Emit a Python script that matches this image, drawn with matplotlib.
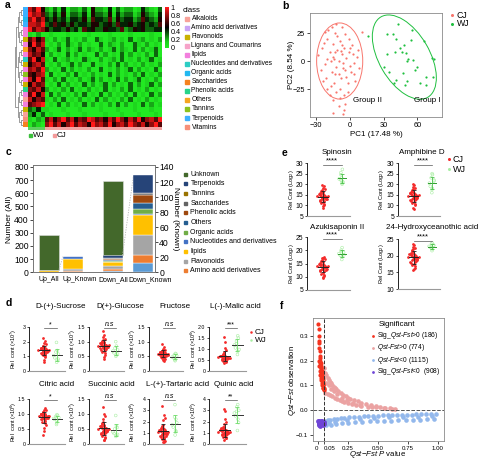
import numpy as np
import matplotlib
matplotlib.use("Agg")
import matplotlib.pyplot as plt
from matplotlib.colors import LinearSegmentedColormap, ListedColormap
from matplotlib.patches import Ellipse, Rectangle

plt.rcParams["font.family"] = ["Liberation Sans", "DejaVu Sans"]
plt.rcParams["mathtext.fontset"] = "custom"
plt.rcParams["mathtext.rm"] = "Liberation Sans"
plt.rcParams["mathtext.it"] = "Liberation Sans:italic"
plt.rcParams["mathtext.bf"] = "Liberation Sans:bold"
plt.rcParams["axes.linewidth"] = 0.6

W, H = 479, 463

# ---------------- a: heatmap (digits 0-9, first 4 columns WJ) ----------------
HEAT_WJ = ["8695", "9786", "7968", "8879", "9687", "1020",
           "6857", "5968", "7586", "8675", "6958", "5786", "7869", "6578",
           "8596", "5867", "7685", "6958", "8576", "6789", "3241", "2413",
           "1021", "0210"]
HEAT_CJ = ["2131402213052214031220142103",
           "3242513324153325142331253214",
           "4353424435264436253442364325",
           "3464535344355345364453453436",
           "5344353426453354436235453344",
           "0100010000100001000010000100",
           "1020130102003101201030120102",
           "0102031020100302102003102010",
           "2013020130210201302103020130",
           "0201030201003020103020102030",
           "1030120103100201203010201301",
           "0102013020030102030201020102",
           "2010302010200301020130201030",
           "0301020301020103020102030102",
           "1020301020130201030201301020",
           "0103020103020130201030201302",
           "2010203010201030102030102010",
           "0302010203010302010203010302",
           "1020301020103020102030102010",
           "0103020103020102030201030201",
           "1000100010000100010001000100",
           "0100010001000010001000100010",
           "6857968576986758697586957869",
           "7968579687597869578697685796"]
ROW_CLASS = [11, 11, 6, 11, 4, 4, 2, 4, 9, 4, 5, 2, 4, 10, 4, 2, 8, 4, 0, 4, 2, 0, 12, 7]
CLASS_NAMES = ["Alkaloids", "Amino acid derivatives", "Flavonoids", "Lignans and Coumarins",
               "lipids", "Nucleotides and derivatives", "Organic acids", "Saccharides",
               "Phenolic acids", "Others", "Tannins", "Terpenoids", "Vitamins"]
CLASS_COLORS = ["#f8a29a", "#c9a3f5", "#c9b200", "#f6a3c8", "#f27fdd", "#2dcdc4", "#22b8f0",
                "#f5821f", "#27d38a", "#f6a51f", "#8cc21c", "#3db1ff", "#f7907a"]
CB_TICKS = [0, 0.2, 0.4, 0.6, 0.8, 1]
CB_LABELS = ["0", "0.2", "0.4", "0.6", "0.8", "1"]

# ---------------- b: PCA ----------------
CJ_PC1 = [-28, -25, -22, -20, -18, -16, -15, -14, -13, -12, -11, -10, -9, -8, -7, -6, -5, -4, -3, -2,
          -1, 0, 2, 4, 6, 8, -26, -23, -21, -19, -17, -15, -13, -11, -9, -7, -5, -3, -1, 1,
          3, 5, 7, -24, -20, -16, -12, -8, -4, 0, 4, -18, -14, -10, -6, -2, -22, -12, -7, -15,
          -10, -5, 11, -15, -6, -4, -9, -20, -13, -17]
CJ_PC2 = [5, 12, -3, 20, 8, -10, 15, 2, 25, -5, 10, 0, 18, -15, 6, -2, 12, -8, 3, -20,
          8, -4, 14, -12, 4, -6, -8, 16, -15, 28, -22, 4, -12, 22, -25, 14, -30, -14, 20, -10,
          6, -18, 10, -18, 2, 30, -28, 9, 24, 12, -2, -30, -20, -12, -6, -28, 26, 33, 30, -35,
          -40, -44, 26, -46, -47, -38, -33, -25, 8, 0]
WJ_PC1 = [43, 33, 38, 55, 54, 41, 48, 66, 40, 33, 46, 50, 52, 51, 56, 73, 75, 30, 58, 47,
          41, 68, 74, 51, 49, 62, 68, 39, 16, 45, 60, 35]
WJ_PC2 = [33, 24, 24, 28, 19, 20, 14, 18, 8, 6, 8, 7, 2, 0, 1, 3, 2, -5, -8, -11,
          -17, -14, -14, -18, -21, -20, -21, -20, 22, 12, -5, -10]

# ---------------- c: stacked bars ----------------
GROUP_LABELS = ["Up_All", "Up_Known", "Down_All", "Down_Known"]
KNOWN_CLASSES = ["Alkaloids", "Amino acid derivatives", "Flavonoids", "lipids",
                 "Nucleotides and derivatives", "Organic acids", "Others", "Phenolic acids",
                 "Saccharides", "Tannins", "Terpenoids"]
UP_KNOWN = [1, 1, 2, 14, 3, 0, 0, 0, 0, 0, 0]
DOWN_KNOWN = [12, 11, 26, 27, 2, 6, 8, 11, 2, 1, 23]
UP_UNKNOWN = 259
DOWN_UNKNOWN = 563
C_LEGEND = ["Unknown", "Terpenoids", "Tannins", "Saccharides", "Phenolic acids", "Others",
            "Organic acids", "Nucleotides and derivatives", "lipids", "Flavonoids",
            "Amino acid derivatives"]
C_COLORS = {"Unknown": "#43682b", "Terpenoids": "#264478", "Tannins": "#997300",
            "Saccharides": "#636363", "Phenolic acids": "#9e480e", "Others": "#255e91",
            "Organic acids": "#70ad47", "Nucleotides and derivatives": "#4472c4",
            "lipids": "#ffc000", "Flavonoids": "#a5a5a5", "Amino acid derivatives": "#ed7d31",
            "Alkaloids": "#5b9bd5"}

# ---------------- d: organic acids / sugars ----------------
SUCROSE_CJ = [1.42, 1.35, 1.50, 1.28, 1.61, 1.19, 1.45, 1.72, 1.33, 1.55, 1.08, 1.40, 1.88, 1.25, 1.47, 1.63, 0.95, 1.38,
              1.52, 2.05, 1.30, 1.44, 1.15, 1.68, 1.36, 0.78, 1.58, 1.22, 1.49, 1.83, 1.41, 2.28, 1.02, 1.34, 1.57, 0.62]
SUCROSE_WJ = [1.05, 0.75, 1.30, 1.15, 0.60, 0.90, 1.40, 1.95, 0.80]
GLUCOSE_CJ = [0.86, 0.80, 0.92, 0.75, 0.98, 0.70, 0.88, 1.05, 0.82, 0.95, 0.64, 0.84, 1.15, 0.77, 0.90, 1.00, 0.55, 0.83,
              0.93, 1.22, 0.79, 0.87, 0.68, 1.02, 0.81, 0.48, 0.96, 0.73, 0.89, 1.10, 0.85, 1.35, 0.60, 0.82, 0.94, 0.42]
GLUCOSE_WJ = [0.68, 0.55, 0.78, 0.72, 0.50, 0.62, 0.85, 1.00, 0.58]
FRUCTOSE_CJ = [0.58, 0.55, 0.62, 0.52, 0.66, 0.49, 0.60, 0.70, 0.56, 0.64, 0.45, 0.57, 0.76, 0.53, 0.61, 0.68, 0.40, 0.57,
               0.63, 0.82, 0.54, 0.59, 0.47, 0.69, 0.56, 0.37, 0.65, 0.51, 0.60, 0.73, 0.58, 0.92, 0.43, 0.56, 0.64, 0.35]
FRUCTOSE_WJ = [0.48, 0.40, 0.55, 0.52, 0.35, 0.45, 0.60, 0.38, 0.58]
MALIC_CJ = [0.62, 0.58, 0.66, 0.55, 0.71, 0.51, 0.63, 0.78, 0.57, 0.69, 0.46, 0.60, 0.88, 0.54, 0.65, 0.74, 0.41, 0.59,
            0.67, 1.05, 0.56, 0.61, 0.49, 0.76, 0.58, 0.38, 0.70, 0.53, 0.64, 0.95, 0.60, 1.55, 0.44, 0.57, 0.68, 1.30]
MALIC_WJ = [1.18, 0.90, 1.35, 1.50, 0.75, 1.05, 1.60, 1.25, 0.98]
CITRIC_CJ = [0.94, 0.90, 0.98, 0.86, 1.02, 0.82, 0.95, 1.08, 0.88, 1.00, 0.75, 0.92, 1.15, 0.85, 0.97, 1.05, 0.65, 0.91,
             0.99, 1.20, 0.87, 0.93, 0.78, 1.06, 0.89, 0.52, 1.01, 0.83, 0.96, 1.12, 0.92, 0.30, 0.70, 0.90, 1.00, 0.45]
CITRIC_WJ = [0.85, 0.78, 0.92, 0.95, 0.70, 0.82, 0.98, 0.65, 0.88]
SUCCINIC_CJ = [0.50, 0.45, 0.56, 0.40, 0.62, 0.35, 0.52, 0.72, 0.43, 0.60, 0.28, 0.48, 0.85, 0.38, 0.55, 0.66, 0.20, 0.46,
               0.58, 1.00, 0.41, 0.51, 0.32, 0.70, 0.44, 0.15, 0.61, 0.37, 0.53, 0.92, 0.49, 1.25, 0.25, 0.45, 0.59, 0.12]
SUCCINIC_WJ = [0.40, 0.30, 0.50, 0.55, 0.25, 0.35, 0.60, 0.95, 0.32]
TARTARIC_CJ = [1.05, 0.90, 1.20, 0.75, 1.40, 0.60, 1.10, 1.70, 0.85, 1.30, 0.45, 1.00, 2.10, 0.70, 1.25, 1.55, 0.30, 0.95,
               1.35, 2.60, 0.80, 1.08, 0.50, 1.60, 0.88, 0.20, 1.45, 0.65, 1.15, 2.30, 1.02, 3.40, 0.38, 0.92, 1.28, 0.15]
TARTARIC_WJ = [1.70, 1.20, 2.40, 1.90, 0.80, 1.50, 2.20, 3.50, 1.10]
QUINIC_CJ = [1.10, 1.00, 1.20, 0.90, 1.35, 0.80, 1.12, 1.55, 0.95, 1.28, 0.65, 1.05, 1.80, 0.85, 1.22, 1.45, 0.50, 1.02,
             1.30, 2.20, 0.88, 1.08, 0.70, 1.50, 0.98, 0.35, 1.40, 0.82, 1.15, 2.00, 1.06, 3.10, 0.55, 0.96, 1.25, 2.90]
QUINIC_WJ = [2.75, 2.20, 3.30, 3.00, 1.20, 2.50, 3.50, 2.90, 1.90]
D_TITLES = ["D-(+)-Sucrose", "D(+)-Glucose", "Fructose", "L(-)-Malic acid",
            "Citric acid", "Succinic acid", "L-(+)-Tartaric acid", "Quinic acid"]
D_EXP = [7, 7, 7, 6, 6, 7, 6, 5]
D_SIG = ["*", "n.s", "n.s", "***", "*", "n.s", "n.s", "**"]
D_YMAX = [3, 1.5, 1.5, 2.0, 1.5, 1.5, 4, 4]
D_YTICKS = [[0, 1, 2, 3], [0, 0.5, 1.0, 1.5], [0, 0.5, 1.0, 1.5], [0, 0.5, 1.0, 1.5, 2.0],
            [0, 0.5, 1.0, 1.5], [0, 0.5, 1.0, 1.5], [0, 1, 2, 3, 4], [0, 1, 2, 3, 4]]

# ---------------- e: flavonoid / saponin markers ----------------
SPINOSIN_CJ = [14.2, 13.5, 15.0, 12.8, 16.1, 12.0, 14.5, 17.2, 13.2, 15.6, 11.0, 14.0, 18.3, 12.5, 14.8, 16.5, 10.2, 13.8,
               15.3, 19.2, 12.9, 14.3, 11.5, 16.8, 13.6, 9.5, 15.8, 12.2, 14.6, 17.8, 14.1, 19.6, 10.8, 13.4, 15.5, 9.0]
SPINOSIN_WJ = [22.5, 20.5, 24.5, 21.0, 23.0, 25.5, 20.0, 22.0, 27.0, 21.5]
AMPHIBINE_CJ = [14.6, 13.8, 15.4, 13.0, 16.5, 12.2, 14.9, 17.6, 13.4, 16.0, 11.2, 14.4, 18.8, 12.7, 15.2, 17.0, 10.0, 14.1,
                15.8, 19.8, 13.1, 14.7, 11.6, 17.3, 13.9, 8.6, 16.2, 12.4, 15.0, 18.2, 14.5, 20.2, 10.6, 13.6, 15.9, 8.2]
AMPHIBINE_WJ = [20.5, 18.0, 23.0, 21.5, 17.5, 19.0, 24.5, 16.0, 22.0, 25.0]
AZUKI_CJ = [13.9, 13.3, 14.6, 12.7, 15.4, 12.0, 14.1, 16.3, 13.0, 15.0, 11.2, 13.7, 17.0, 12.4, 14.4, 15.8, 10.4, 13.5,
            14.8, 17.5, 12.8, 14.0, 11.6, 16.0, 13.2, 9.8, 15.2, 12.2, 14.3, 16.7, 13.8, 17.2, 10.8, 13.1, 14.9, 9.5]
AZUKI_WJ = [18.7, 17.5, 20.0, 19.2, 16.5, 18.0, 21.0, 19.5, 18.3]
HYDROXY_CJ = [19.6, 19.0, 20.3, 18.4, 21.0, 17.8, 19.9, 21.9, 18.8, 20.6, 17.1, 19.4, 22.6, 18.2, 20.1, 21.4, 16.3, 19.2,
              20.5, 23.3, 18.6, 19.7, 17.4, 21.6, 19.0, 15.6, 20.8, 18.0, 20.0, 22.3, 19.5, 23.6, 16.8, 18.9, 20.4, 15.9]
HYDROXY_WJ = [22.8, 22.0, 23.5, 23.0, 21.5, 22.5, 23.8, 22.3, 23.2]
E_TITLES = ["Spinosin", "Amphibine D", "Azukisaponin II", "24-Hydroxyceanothic acid"]
E_YLIM = [(5, 30), (5, 30), (5, 25), (10, 25)]

# ---------------- f: Qst-Fst ----------------
SIGPOS_X = [0.003, 0.006, 0.01, 0.012, 0.015, 0.018, 0.02, 0.022, 0.025, 0.028, 0.03, 0.032, 0.035, 0.038,
            0.04, 0.042, 0.045, 0.048, 0.005, 0.008, 0.013, 0.017, 0.021, 0.024, 0.027, 0.031, 0.034, 0.037,
            0.041, 0.044, 0.047, 0.011, 0.019, 0.026, 0.033, 0.039, 0.046, 0.009, 0.016, 0.023]
SIGPOS_Y = [0.35, 0.33, 0.30, 0.27, 0.24, 0.22, 0.20, 0.19, 0.18, 0.17, 0.16, 0.15, 0.14, 0.13,
            0.12, 0.11, 0.10, 0.09, 0.28, 0.25, 0.21, 0.19, 0.17, 0.16, 0.15, 0.13, 0.12, 0.11,
            0.10, 0.09, 0.085, 0.18, 0.14, 0.12, 0.10, 0.09, 0.08, 0.20, 0.16, 0.13]
POS_X = [0.05, 0.06, 0.07, 0.08, 0.09, 0.10, 0.11, 0.12, 0.13, 0.14, 0.15, 0.17, 0.19, 0.21, 0.23, 0.25,
         0.27, 0.30, 0.33, 0.36, 0.40, 0.44, 0.48, 0.52, 0.56, 0.60, 0.64,
         0.06, 0.08, 0.10, 0.12, 0.14, 0.16, 0.18, 0.20, 0.22, 0.25, 0.28, 0.32, 0.36, 0.42, 0.48, 0.55, 0.62,
         0.07, 0.09, 0.11, 0.13, 0.16, 0.20, 0.24, 0.29, 0.35, 0.45]
POS_Y = [0.17, 0.15, 0.14, 0.13, 0.12, 0.115, 0.11, 0.10, 0.095, 0.09, 0.085, 0.075, 0.068, 0.06, 0.055, 0.05,
         0.045, 0.04, 0.035, 0.03, 0.025, 0.02, 0.016, 0.012, 0.009, 0.006, 0.004,
         0.07, 0.065, 0.06, 0.055, 0.05, 0.045, 0.042, 0.038, 0.034, 0.03, 0.026, 0.022, 0.018, 0.013, 0.01, 0.006, 0.003,
         0.11, 0.10, 0.085, 0.078, 0.065, 0.05, 0.04, 0.03, 0.022, 0.012]
NEG_X = [0.06, 0.08, 0.10, 0.13, 0.16, 0.19, 0.22, 0.26, 0.30, 0.34, 0.38, 0.42, 0.46, 0.50, 0.54, 0.58, 0.62,
         0.66, 0.70, 0.74, 0.78, 0.82, 0.86, 0.90, 0.94, 0.98,
         0.07, 0.11, 0.15, 0.20, 0.25, 0.31, 0.37, 0.43, 0.49, 0.55, 0.61, 0.67, 0.73, 0.79, 0.85, 0.91, 0.97,
         0.09, 0.14, 0.24, 0.35, 0.47, 0.59, 0.71, 0.83, 0.95]
NEG_Y = [-0.045, -0.042, -0.04, -0.038, -0.036, -0.034, -0.032, -0.03, -0.028, -0.027, -0.026, -0.025, -0.024,
         -0.023, -0.022, -0.022, -0.021, -0.02, -0.02, -0.019, -0.019, -0.018, -0.018, -0.017, -0.017, -0.016,
         -0.062, -0.06, -0.058, -0.055, -0.052, -0.05, -0.048, -0.046, -0.045, -0.044, -0.043, -0.042, -0.041,
         -0.04, -0.039, -0.038, -0.037,
         -0.052, -0.047, -0.04, -0.036, -0.032, -0.03, -0.028, -0.027, -0.026]
SIGNEG_X = [0.002, 0.006, 0.01, 0.014, 0.018, 0.022, 0.026, 0.03, 0.034, 0.038, 0.042, 0.046,
            0.004, 0.008, 0.012, 0.016, 0.02, 0.024, 0.028, 0.032, 0.036, 0.04, 0.044, 0.048]
SIGNEG_Y = [-0.045, -0.05, -0.055, -0.06, -0.048, -0.052, -0.058, -0.044, -0.05, -0.056, -0.062, -0.047,
            -0.062, -0.058, -0.046, -0.053, -0.064, -0.049, -0.043, -0.059, -0.054, -0.047, -0.051, -0.057]
F_LABELS = ["Sig_$Qst$-$Fst$>0 (186)", "$Qst$-$Fst$>0 (774)", "$Qst$-$Fst$<0 (1115)", "Sig_$Qst$-$Fst$<0  (908)"]

RED = "#f42a2a"
LGREEN = "#a8eea2"
PCA_RED = "#f8766d"
PCA_GREEN = "#1fbf3f"
F_COLORS = ["#f5331f", "#eba2a2", "#93b8ec", "#6f45d6"]


def px_axes(fig, l, t, r, b, **kw):
    return fig.add_axes([l / W, 1 - b / H, (r - l) / W, (b - t) / H], **kw)


def swarm_x(vals, center, half):
    v = np.asarray(vals, float)
    rank = np.empty(len(v))
    rank[np.argsort(v)] = np.arange(len(v))
    dens = 1 - 0.8 * np.abs(rank / (len(v) - 1) - 0.5) * 2
    phase = ((np.arange(len(v)) * 0.618034) % 1) * 2 - 1
    return center + phase * half * dens


def strip(ax, cj, wj, cj_half, wj_half, bar_cj, bar_wj, wj_mean, wj_err, ms):
    ax.scatter(swarm_x(cj, 1, cj_half), cj, s=ms, color=RED, lw=0, zorder=2)
    ax.scatter(swarm_x(wj, 2, wj_half), wj, s=ms, facecolor="none", edgecolor=LGREEN, lw=0.4, zorder=2)
    for pos, vals, half, mc, ec in [(1, cj, bar_cj, "#222222", "#222222"),
                                   (2, wj, bar_wj, wj_mean, wj_err)]:
        m, sd = np.mean(vals), np.std(vals)
        ax.plot([pos - half, pos + half], [m, m], color=mc, lw=0.7, zorder=3)
        ax.errorbar(pos, m, yerr=sd, color=ec, lw=0.6, capsize=1.5, capthick=0.6, zorder=3)


def sig(ax, text, fs, italic=False):
    y0, y1 = ax.get_ylim()
    yb = y1 - 0.03 * (y1 - y0)
    ax.plot([1, 2], [yb, yb], color="#555555", lw=0.5, clip_on=False)
    ax.text(1.5, yb, text, ha="center", va="bottom", fontsize=fs, clip_on=False,
            style="italic" if italic else "normal")


def strip_style(ax, ylim, yticks, fs):
    ax.set_ylim(*ylim)
    ax.set_yticks(yticks, [f"{t:g}" if float(t).is_integer() and max(yticks) > 2 else
                           ("0" if t == 0 else f"{t:.1f}") for t in yticks])
    ax.set_xticks([])
    ax.spines[["top", "right"]].set_visible(False)
    ax.spines["bottom"].set_color("#9a9a9a")
    ax.spines["bottom"].set_linewidth(0.8)
    ax.spines["left"].set_linewidth(0.6)
    ax.tick_params(axis="y", length=1.8, width=0.5, pad=0.8, labelsize=fs)
    ax.patch.set_alpha(0)


fig = plt.figure(figsize=(W / 100, H / 100), dpi=100)
ov = fig.add_axes([0, 0, 1, 1], zorder=20)
ov.set_xlim(0, W)
ov.set_ylim(H, 0)
ov.axis("off")


def label(x, y, s, fs, rot=0, **kw):
    ov.text(x, y, s, fontsize=fs, rotation=rot, ha=kw.pop("ha", "center"), va="center", **kw)


for lab, x, y in [("a", 5, 5), ("b", 282, 6), ("c", 6, 152), ("d", 6, 303), ("e", 282, 153), ("f", 280, 306)]:
    label(x, y, lab, 7.5, fontweight="bold", ha="left")

# ---------------- a ----------------
heat = np.array([[int(ch) for ch in wj + cj] for wj, cj in zip(HEAT_WJ, HEAT_CJ)]) / 9
gkr = LinearSegmentedColormap.from_list(
    "gkr", [(0, "#22e822"), (0.15, "#1dd01d"), (0.5, "#000000"), (1, "#ff1a1a")])
axh = px_axes(fig, 28, 7, 162, 127)
axh.imshow(heat, cmap=gkr, vmin=0, vmax=1, aspect="auto", interpolation="nearest")
axh.axis("off")

axrow = px_axes(fig, 23, 7, 27.5, 127)
axrow.imshow(np.array(ROW_CLASS)[:, None], cmap=ListedColormap(CLASS_COLORS), vmin=-0.5,
             vmax=len(CLASS_COLORS) - 0.5, aspect="auto", interpolation="nearest")
axrow.axis("off")

axcol = px_axes(fig, 28, 127.5, 162, 130.5)
n_wj, n_cj = len(HEAT_WJ[0]), len(HEAT_CJ[0])
axcol.imshow(np.array([[0] * n_wj + [1] * n_cj]), cmap=ListedColormap(["#5ed05e", "#f4a3a3"]),
             aspect="auto", interpolation="nearest")
axcol.axis("off")

# simple dendrogram on the rows
axd = px_axes(fig, 14, 7, 22.5, 127)
n = len(ROW_CLASS)
axd.set_xlim(0, 1)
axd.set_ylim(n, 0)
axd.axis("off")
nodes = [(i + 0.5, 1.0) for i in range(n)]
level = 0.8
while len(nodes) > 1:
    nxt = []
    for k in range(0, len(nodes) - 1, 2):
        (y1, x1), (y2, x2) = nodes[k], nodes[k + 1]
        axd.plot([x1, level, level, x2], [y1, y1, y2, y2], color="#8c8c8c", lw=0.6)
        nxt.append(((y1 + y2) / 2, level))
    if len(nodes) % 2:
        nxt.append(nodes[-1])
    nodes = nxt
    level -= 0.17

axcb = px_axes(fig, 165, 7, 168.5, 48)
axcb.imshow(np.linspace(1, 0, 100)[:, None], cmap=gkr, aspect="auto", extent=(0, 1, 0, 1))
axcb.set_xticks([])
axcb.yaxis.tick_right()
axcb.set_yticks(CB_TICKS, CB_LABELS)
axcb.tick_params(axis="y", length=0, pad=1.5, labelsize=5.2)
for s in axcb.spines.values():
    s.set_visible(False)

label(183, 11, "class", 5.7, ha="left")
for i, (name, col) in enumerate(zip(CLASS_NAMES, CLASS_COLORS)):
    y = 18.5 + i * 9.05
    ov.add_patch(Rectangle((185.5, y - 2), 4, 4, color=col))
    label(191.5, y, name, 4.8, ha="left")
ov.add_patch(Rectangle((29.5, 134), 3, 3, color="#3cc03c"))
label(33, 135.5, "WJ", 5.8, ha="left")
ov.add_patch(Rectangle((53.5, 134), 3, 3, color="#f49a9a"))
label(57, 135.5, "CJ", 5.8, ha="left")

# ---------------- b ----------------
axb = px_axes(fig, 310, 13, 442, 117)
axb.scatter(CJ_PC1, CJ_PC2, s=2.5, color=PCA_RED, lw=0)
axb.scatter(WJ_PC1, WJ_PC2, s=2.5, color=PCA_GREEN, lw=0)
axb.add_patch(Ellipse((-9, 0), 41, 68, fill=False, ec=PCA_RED, lw=0.7))
axb.add_patch(Ellipse((48.5, 3.5), 83, 45, angle=-60, fill=False, ec=PCA_GREEN, lw=0.7))
axb.text(16, -35.5, "Group II", fontsize=5.8, ha="center", va="center")
axb.text(69, -35.5, "Group I", fontsize=5.8, ha="center", va="center")
axb.set_xlim(-35.4, 82)
axb.set_ylim(-50, 42.9)
axb.set_xticks([-30, 0, 30, 60], ["\u221230", "0", "30", "60"])
axb.set_yticks([-25, 0, 25], ["\u221225", "0", "25"])
axb.tick_params(labelsize=5.3, length=2, width=0.5, pad=1.5)
for s in axb.spines.values():
    s.set_color("#8a8a8a")
label(376, 135, "PC1 (17.48 %)", 5.8)
label(292, 65, "PC2 (8.54 %)", 5.8, rot=90)
for y, col, name in [(15, PCA_RED, "CJ"), (24, PCA_GREEN, "WJ")]:
    ov.plot(452, y, "o", ms=2.2, color=col, mew=0)
    label(457, y, name, 6.3, ha="left")

# ---------------- c ----------------
BAR_X = [49, 73, 112.5, 143.5]
LABEL_X = [48.5, 79.5, 113, 150]
BAR_W = 20
axc = px_axes(fig, 33, 165, 155, 272.3)
axk = axc.twinx()
axc.set_xlim(33, 155)
axc.set_ylim(0, 815)
axk.set_ylim(0, 142.6)
for x, known, unk in [(BAR_X[0], UP_KNOWN, UP_UNKNOWN), (BAR_X[2], DOWN_KNOWN, DOWN_UNKNOWN)]:
    bottom = 0
    for cls, v in zip(KNOWN_CLASSES, known):
        axc.bar(x, v, BAR_W, bottom=bottom, color=C_COLORS[cls], ec="white", lw=0.3)
        bottom += v
    axc.bar(x, unk, BAR_W, bottom=bottom, color=C_COLORS["Unknown"], ec="#dddddd", lw=0.4)
for x, known in [(BAR_X[1], UP_KNOWN), (BAR_X[3], DOWN_KNOWN)]:
    bottom = 0
    for cls, v in zip(KNOWN_CLASSES, known):
        axk.bar(x, v, BAR_W, bottom=bottom, color=C_COLORS[cls], ec="white", lw=0.3)
        bottom += v
scale = 815 / 142.6
for xa, xk, known in [(BAR_X[0], BAR_X[1], UP_KNOWN), (BAR_X[2], BAR_X[3], DOWN_KNOWN)]:
    tot = sum(known)
    axc.plot([xa + BAR_W / 2, xk - BAR_W / 2], [tot, tot * scale], ls=(0, (1.5, 1.5)),
             color="#b5b5b5", lw=0.6)
axc.set_yticks(range(0, 801, 100))
axk.set_yticks(range(0, 141, 20))
axc.set_xticks(LABEL_X, GROUP_LABELS)
axc.tick_params(axis="x", length=0, labelsize=5, pad=3)
axc.tick_params(axis="y", labelsize=6.2, length=2, width=0.5, pad=1)
axk.tick_params(axis="y", labelsize=6.2, length=2, width=0.5, pad=1)
for a in (axc, axk):
    for s in a.spines.values():
        s.set_color("#777777")
label(10, 219, "Number (All)", 6, rot=90)
label(176, 219, "Number (Known)", 6, rot=-90)
for i, name in enumerate(C_LEGEND):
    y = 174 + i * 9.67
    ov.add_patch(Rectangle((184, y - 1.5), 3, 3, color=C_COLORS[name]))
    label(190.5, y, name, 5, ha="left")

# ---------------- d ----------------
D_CJ = [SUCROSE_CJ, GLUCOSE_CJ, FRUCTOSE_CJ, MALIC_CJ, CITRIC_CJ, SUCCINIC_CJ, TARTARIC_CJ, QUINIC_CJ]
D_WJ = [SUCROSE_WJ, GLUCOSE_WJ, FRUCTOSE_WJ, MALIC_WJ, CITRIC_WJ, SUCCINIC_WJ, TARTARIC_WJ, QUINIC_WJ]
D_COLS = [(29, 65), (89, 124), (149, 183), (209, 246)]
D_ROWS = [(327, 371), (399, 444)]
D_TITLE_X = [[60.5, 120, 175, 235], [56.5, 111.7, 178, 234]]
D_TITLE_Y = [306, 384.3]
D_YLAB_X = [14, 72.5, 133, 193.5]
for i in range(8):
    r, c = divmod(i, 4)
    (l, rr), (t, b) = D_COLS[c], D_ROWS[r]
    ax = px_axes(fig, l, t, rr, b)
    ax.set_xlim(-0.2, 2.66)
    strip(ax, D_CJ[i], D_WJ[i], 0.48, 0.24, 0.42, 0.4, "#333333", "#6fdc6a", 4)
    strip_style(ax, (0, D_YMAX[i]), D_YTICKS[i], 3.8)
    sig(ax, D_SIG[i], 5, italic=D_SIG[i] == "n.s")
    label(D_TITLE_X[r][c], D_TITLE_Y[r], D_TITLES[i], 5.8)
    label(D_YLAB_X[c], (t + b) / 2, "Rel  cont (\u00d710$^{%d}$)" % D_EXP[i], 4, rot=90)
for y, col, name in [(332, RED, "CJ"), (340, LGREEN, "WJ")]:
    ov.plot(251, y, "o", ms=1.8, color=col, mew=0)
    label(255, y, name, 5.9, ha="left")

# ---------------- e ----------------
E_CJ = [SPINOSIN_CJ, AMPHIBINE_CJ, AZUKI_CJ, HYDROXY_CJ]
E_WJ = [SPINOSIN_WJ, AMPHIBINE_WJ, AZUKI_WJ, HYDROXY_WJ]
E_BOX = [(307, 163, 350, 216), (398, 163, 440, 216), (307, 237, 350, 290), (398, 239, 440, 289)]
E_TITLE_POS = [(337, 153), (421.7, 153), (336.7, 227.3), (431.7, 227.3)]
E_YLAB_X = [292, 382, 292, 382]
for i in range(4):
    l, t, r, b = E_BOX[i]
    ax = px_axes(fig, l, t, r, b)
    ax.set_xlim(0.16, 2.43)
    strip(ax, E_CJ[i], E_WJ[i], 0.33, 0.16, 0.26, 0.2, "#2e9e2e", "#4cc24c", 4)
    lo, hi = E_YLIM[i]
    strip_style(ax, (lo, hi), list(range(lo, hi + 1, 5)), 4.9)
    sig(ax, "****", 5.5)
    label(*E_TITLE_POS[i], E_TITLES[i], 5.8)
    label(E_YLAB_X[i], (t + b) / 2, "Rel Cont (Log$_2$)", 4.1, rot=90)
for y, col, name in [(159, RED, "CJ"), (169, LGREEN, "WJ")]:
    ov.plot(449, y, "o", ms=2.2, color=col, mew=0)
    label(453, y, name, 6.5, ha="left")

# ---------------- f ----------------
axf = px_axes(fig, 313, 318, 444, 441)
axf.scatter(NEG_X, NEG_Y, s=11, color=F_COLORS[2], lw=0)
axf.scatter(POS_X, POS_Y, s=11, color=F_COLORS[1], lw=0)
axf.scatter(SIGPOS_X, SIGPOS_Y, s=9, color=F_COLORS[0], lw=0)
axf.scatter(SIGNEG_X, SIGNEG_Y, s=12, color=F_COLORS[3], lw=0)
axf.axvline(0.05, ls="--", color="#333333", lw=0.7)
axf.axhline(0, ls="--", color="#555555", lw=0.7)
axf.set_xlim(-0.042, 1.05)
axf.set_ylim(-0.126, 0.373)
axf.set_xticks([0, 0.05, 0.25, 0.5, 0.75, 1.0], ["0", "0.05", "0.25", "0.50", "0.75", "1.00"])
axf.set_yticks([-0.1, 0, 0.1, 0.2, 0.3], ["\u22120.1", "0.0", "0.1", "0.2", "0.3"])
axf.tick_params(labelsize=4.4, length=2, width=0.5, pad=1.5)
xt = axf.get_xticklabels()
xt[0].set_ha("right")
xt[1].set_ha("left")
for s in axf.spines.values():
    s.set_color("#8a8a8a")
label(378, 455, "$Qst$\u2212$Fst$ $P$ value", 5.6)
label(293, 380, "$Qst$\u2212$Fst$ observation", 5.6, rot=90)
label(397, 325, "Significant", 5.7)
for y, col, name in zip([335.7, 347.7, 360, 371.7], F_COLORS, F_LABELS):
    ov.plot(372.7, y, "o", ms=2, color=col, mew=0)
    label(377, y, name, 4.8, ha="left")

fig.savefig("out.png", dpi=100)
